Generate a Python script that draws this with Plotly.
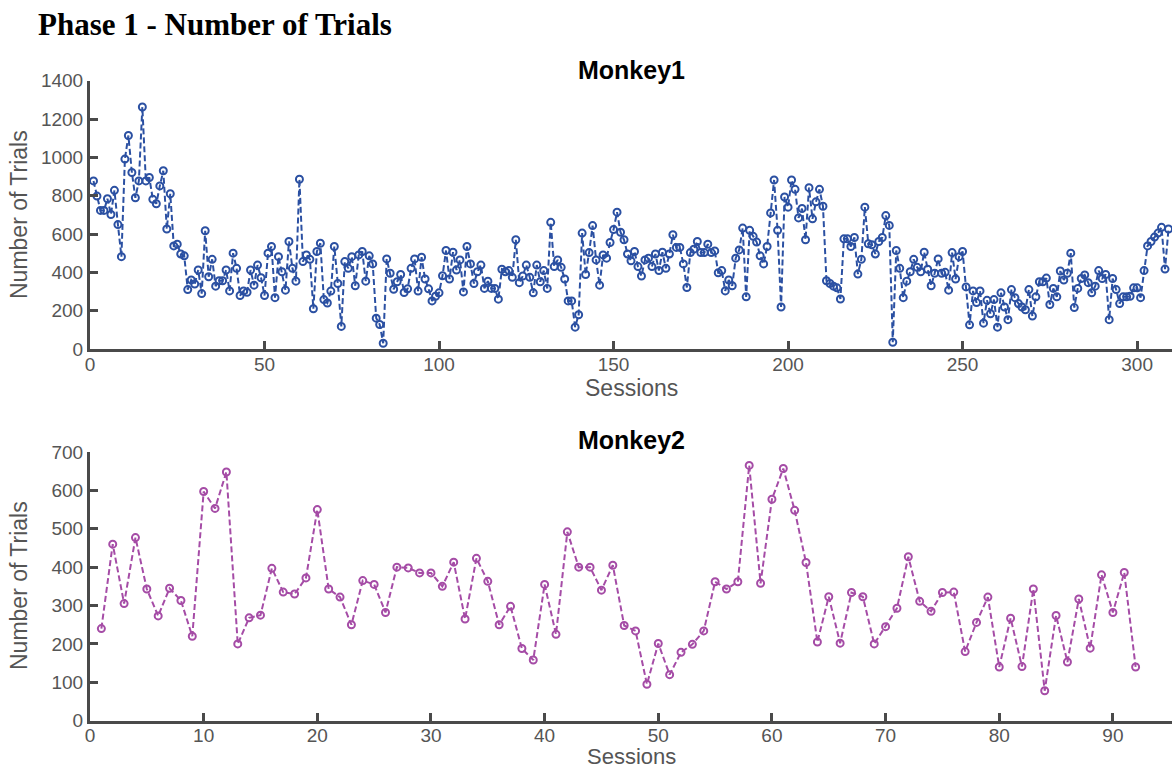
import plotly.graph_objects as go

# ---- data -------------------------------------------------------------
monkey1_trials = [
    877, 798, 723, 723, 784, 702, 828, 649, 482, 991, 1114, 921, 789, 877, 1263, 877, 895, 781, 758, 851,
    930, 626, 810, 538, 547, 496, 486, 310, 360, 339, 412, 289, 617, 377, 468, 328, 356, 356, 412, 303,
    500, 421, 279, 303, 296, 412, 333, 438, 372, 279, 500, 535, 268, 482,
    403, 307, 561, 421, 354, 886, 456, 491, 468, 210, 509, 552, 258, 240, 302, 535, 342, 118, 456, 421,
    482, 330, 491, 509, 354, 486, 444, 161, 128, 30, 470, 395, 312, 351, 389, 295, 314, 421, 470, 302,
    479, 365, 314, 251, 275, 293, 382, 514, 365, 505, 412, 465, 298, 535,
    444, 342, 403, 438, 316, 354, 316, 316, 260, 416, 403, 409, 374, 570, 346, 381, 438, 374, 293, 438,
    351, 409, 316, 661, 430, 465, 426, 365, 251, 251, 114, 179, 605, 389, 503, 644, 465, 333, 491, 474,
    556, 623, 714, 609, 570, 496, 460, 509, 430, 381, 465, 474, 430, 496, 409,
    505, 421, 496, 596, 530, 530, 444, 321, 503, 521, 561, 503, 503, 547, 503, 512, 398, 409, 303, 360,
    330, 474, 517, 631, 272, 619, 588, 558, 486, 444, 535, 710, 882, 619, 219, 793, 740, 882, 833, 684,
    733, 570, 842, 679, 768, 833, 745, 356, 342, 328, 319, 261, 575, 575, 535,
    582, 391, 468, 740, 549, 544, 496, 561, 582, 696, 645, 35, 514, 421, 268, 354, 403, 468, 426, 403,
    505, 416, 330, 395, 470, 395, 400, 307, 503, 365, 482, 509, 324, 126, 303, 242, 303, 135, 254, 184,
    258, 114, 293, 219, 153, 310, 268, 237, 219, 205, 310, 172, 272, 351,
    351, 370, 232, 316, 272, 407, 360, 395, 500, 216, 316, 368, 386, 346, 293, 328, 409, 368, 389, 153,
    368, 310, 237, 272, 272, 275, 319, 319, 268, 409, 538, 561, 584, 605, 635, 417, 626,
]
monkey2_trials = [
    240, 460, 305, 477, 343, 273, 345, 313, 220, 597, 553, 648, 200, 268, 275, 397, 335, 330, 372, 550,
    343, 322, 250, 365, 355, 282, 400, 398, 385, 385, 350, 413, 265, 423, 363, 250, 298, 188, 158, 355,
    225, 492, 400, 400, 340, 405, 248, 234, 95, 201, 120, 178, 199, 234, 362, 343, 362, 665, 358, 577,
    657, 548, 412, 205, 323, 202, 334, 323, 200, 245, 293, 427, 311, 285, 334, 335, 180, 256, 322, 140,
    267, 141, 343, 78, 274, 153, 317, 189, 380, 282, 386, 140,
]
monkey1_sessions = list(range(1, len(monkey1_trials) + 1))
monkey2_sessions = list(range(1, len(monkey2_trials) + 1))

panel_titles = ["Monkey1", "Monkey2"]
m1_yticks = [0, 200, 400, 600, 800, 1000, 1200, 1400]
m2_yticks = [0, 100, 200, 300, 400, 500, 600, 700]
m1_xticks = [0, 50, 100, 150, 200, 250, 300]
m2_xticks = [0, 10, 20, 30, 40, 50, 60, 70, 80, 90]

# ---- styling ----------------------------------------------------------
W, H = 1172, 771
ML = 90                     # left margin in px
PW = W - ML                 # plot width in px
BLUE = "#2b50a2"
PURPLE = "#a54ca6"
AXIS = "#4a4a4a"
TEXT = "#555555"
SANS = "Liberation Sans, Arial, Helvetica, sans-serif"


def px_x(px):
    return (px - ML) / PW


def px_y(py):
    return 1 - py / H


fig = go.Figure()

fig.add_trace(go.Scatter(
    x=monkey1_sessions, y=monkey1_trials, mode="lines+markers",
    line=dict(color=BLUE, width=2, dash="6px,3px"),
    marker=dict(symbol="circle-open", size=7, color=BLUE, line=dict(width=2, color=BLUE)),
    xaxis="x", yaxis="y", showlegend=False,
))
fig.add_trace(go.Scatter(
    x=monkey2_sessions, y=monkey2_trials, mode="lines+markers",
    line=dict(color=PURPLE, width=2, dash="6px,3px"),
    marker=dict(symbol="circle-open", size=7, color=PURPLE, line=dict(width=2, color=PURPLE)),
    xaxis="x2", yaxis="y2", showlegend=False,
))

axis_common = dict(
    showgrid=False, zeroline=False, showline=True, linecolor=AXIS, linewidth=3,
    ticks="inside", ticklen=8, tickwidth=3, tickcolor=AXIS,
    tickfont=dict(family=SANS, size=19, color=TEXT), automargin=False,
)

top_dom = [px_y(349), px_y(80.7)]
bot_dom = [px_y(720.7), px_y(452)]

fig.update_layout(
    width=W, height=H, autosize=False,
    margin=dict(l=ML, r=0, t=0, b=0),
    paper_bgcolor="white", plot_bgcolor="white",
    xaxis=dict(domain=[0, 1], range=[0, 310], tickvals=m1_xticks, anchor="y",
               ticklabelstandoff=-4, **axis_common),
    yaxis=dict(domain=top_dom, range=[0, 1400], tickvals=m1_yticks, anchor="x", **axis_common),
    xaxis2=dict(domain=[0, 1], range=[0, 95.2], tickvals=m2_xticks, anchor="y2",
                ticklabelstandoff=-5, **axis_common),
    yaxis2=dict(domain=bot_dom, range=[0, 700], tickvals=m2_yticks, anchor="x2", **axis_common),
)

annotations = [
    dict(text="<b>Phase 1 - Number of Trials</b>", x=px_x(37), y=px_y(24),
         xanchor="left", yanchor="middle",
         font=dict(family="Liberation Serif, Times New Roman, serif", size=31, color="black")),
    dict(text="<b>%s</b>" % panel_titles[0], x=px_x(631), y=px_y(70), xanchor="center", yanchor="middle",
         font=dict(family=SANS, size=25, color="black")),
    dict(text="<b>%s</b>" % panel_titles[1], x=px_x(631), y=px_y(440), xanchor="center", yanchor="middle",
         font=dict(family=SANS, size=25, color="black")),
    dict(text="Number of Trials", x=px_x(19), y=px_y(215), textangle=-90,
         xanchor="center", yanchor="middle", font=dict(family=SANS, size=23, color=TEXT)),
    dict(text="Number of Trials", x=px_x(19), y=px_y(586), textangle=-90,
         xanchor="center", yanchor="middle", font=dict(family=SANS, size=23, color=TEXT)),
    dict(text="Sessions", x=px_x(631), y=px_y(388), xanchor="center", yanchor="middle",
         font=dict(family=SANS, size=23, color=TEXT)),
    dict(text="Sessions", x=px_x(631), y=px_y(756), xanchor="center", yanchor="middle",
         font=dict(family=SANS, size=22, color=TEXT)),
]
for a in annotations:
    a.update(xref="paper", yref="paper", showarrow=False, borderpad=0)
fig.update_layout(annotations=annotations)

fig.write_html("out.html")
